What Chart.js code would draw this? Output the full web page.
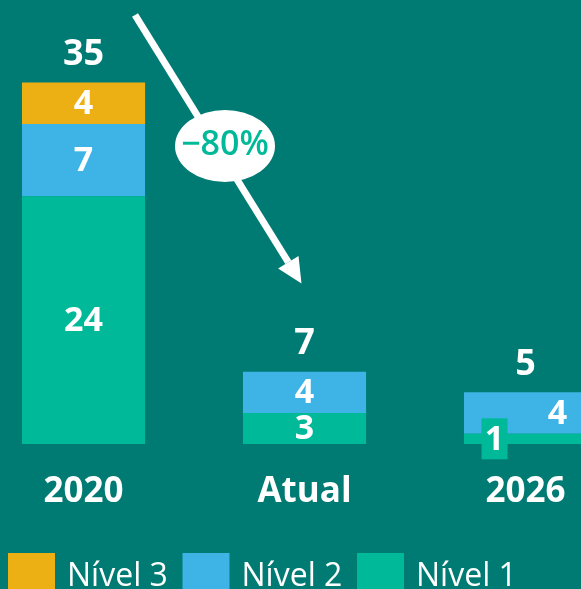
<!DOCTYPE html>
<html lang="pt">
<head>
<meta charset="utf-8">
<script src="https://cdn.jsdelivr.net/npm/chart.js@4.4.1/dist/chart.umd.min.js"></script>
<style>
  html, body { margin: 0; padding: 0; background: #007b74; }
  #wrap { width: 581px; height: 589px; }
</style>
</head>
<body>
<div id="wrap"><canvas id="grafico"></canvas></div>
<script>
// dados
const categorias = ['2020', 'Atual', '2026'];
const nivel1 = [24, 3, 1];
const nivel2 = [7, 4, 4];
const nivel3 = [4, null, null];
const nomesNiveis = ['Nível 1', 'Nível 2', 'Nível 3'];
const variacao = '−80%';

const cores = ['#00b999', '#3db4e5', '#edb014'];
const fonte = '"Open Sans", "Noto Sans", sans-serif';

// deslocamentos dos rótulos na barra de 2026 (como no original)
const ajusteRotulo = {
    '0-2': { dx: -31, dy: 0, caixa: true },
    '1-2': { dx: 32, dy: 0 }
};

// eixo x numérico: cada categoria em 0, 1, 2 (a última fica cortada na borda)
const pontos = (serie) => serie.map((v, j) => ({ x: j, y: v }));

const rotulosPlugin = {
    id: 'rotulos',
    afterDatasetsDraw(chart) {
        const ctx = chart.ctx;
        ctx.save();
        ctx.textAlign = 'center';
        ctx.textBaseline = 'middle';

        // valores dentro das barras
        chart.data.datasets.forEach((ds, i) => {
            const meta = chart.getDatasetMeta(i);
            meta.data.forEach((bar, j) => {
                const v = ds.data[j].y;
                if (!v) return;
                let x = bar.x;
                let y = (bar.y + bar.base) / 2;
                const aj = ajusteRotulo[i + '-' + j];
                if (aj) {
                    x += aj.dx;
                    y += aj.dy;
                    if (aj.caixa) {
                        ctx.fillStyle = ds.backgroundColor;
                        ctx.fillRect(x - 13, y - 20.5, 26, 41);
                    }
                }
                ctx.fillStyle = '#ffffff';
                ctx.font = 'bold 34px ' + fonte;
                ctx.fillText(String(v), x, y + 1);
            });
        });

        // totais acima das barras
        categorias.forEach((c, j) => {
            let total = 0;
            let topo = Infinity;
            chart.data.datasets.forEach((ds, i) => {
                const v = ds.data[j].y;
                if (!v) return;
                total += v;
                topo = Math.min(topo, chart.getDatasetMeta(i).data[j].y);
            });
            const x = chart.getDatasetMeta(0).data[j].x;
            ctx.fillStyle = '#ffffff';
            ctx.font = 'bold 36px ' + fonte;
            ctx.fillText(String(total), x, topo - 28);
        });
        ctx.restore();
    },
    afterDraw(chart) {
        const ctx = chart.ctx;
        ctx.save();

        // seta de queda
        const x0 = 135, y0 = 15, x1 = 301.5, y1 = 283.5;
        const len = Math.hypot(x1 - x0, y1 - y0);
        const ux = (x1 - x0) / len, uy = (y1 - y0) / len;
        const bx = x1 - ux * 25, by = y1 - uy * 25;
        ctx.strokeStyle = '#ffffff';
        ctx.lineWidth = 7;
        ctx.beginPath();
        ctx.moveTo(x0, y0);
        ctx.lineTo(bx, by);
        ctx.stroke();
        ctx.fillStyle = '#ffffff';
        ctx.beginPath();
        ctx.moveTo(x1, y1);
        ctx.lineTo(bx - uy * 12, by + ux * 12);
        ctx.lineTo(bx + uy * 12, by - ux * 12);
        ctx.closePath();
        ctx.fill();

        // balão com a variação
        ctx.beginPath();
        ctx.ellipse(225, 146, 50, 36, 0, 0, Math.PI * 2);
        ctx.fill();
        ctx.fillStyle = cores[0];
        ctx.font = '600 34px ' + fonte;
        ctx.textAlign = 'center';
        ctx.textBaseline = 'middle';
        ctx.fillText(variacao, 225, 145);

        // legenda (Nível 3, 2, 1)
        ctx.textAlign = 'left';
        ctx.textBaseline = 'alphabetic';
        ctx.font = '32px ' + fonte;
        const ordem = [2, 1, 0];
        ordem.forEach((i, k) => {
            const lx = 8 + k * 174.5;
            ctx.fillStyle = chart.data.datasets[i].backgroundColor;
            ctx.fillRect(lx, 553, 47, 40);
            ctx.fillStyle = '#ffffff';
            ctx.fillText(chart.data.datasets[i].label, lx + 59, 586);
        });
        ctx.restore();
    }
};

new Chart(document.getElementById('grafico'), {
    type: 'bar',
    data: {
        datasets: [
            { label: nomesNiveis[0], data: pontos(nivel1), backgroundColor: cores[0] },
            { label: nomesNiveis[1], data: pontos(nivel2), backgroundColor: cores[1] },
            { label: nomesNiveis[2], data: pontos(nivel3), backgroundColor: cores[2] }
        ]
    },
    options: {
        responsive: true,
        maintainAspectRatio: false,
        animation: false,
        layout: {
            padding: { left: 0, right: 0, top: 0, bottom: 49 }
        },
        datasets: {
            bar: { categoryPercentage: 1, barPercentage: 0.557, borderWidth: 0 }
        },
        plugins: {
            legend: { display: false },
            tooltip: { enabled: false }
        },
        scales: {
            x: {
                type: 'linear',
                stacked: true,
                offset: false,
                bounds: 'data',
                min: -0.378,
                max: 2.251,
                afterBuildTicks: (axis) => {
                    axis.ticks = categorias.map((c, j) => ({ value: j }));
                },
                afterFit: (axis) => {
                    axis.paddingLeft = 0;
                    axis.paddingRight = 0;
                },
                grid: { display: false, drawTicks: false },
                border: { display: false },
                ticks: {
                    color: '#ffffff',
                    padding: 27,
                    autoSkip: false,
                    maxRotation: 0,
                    font: { family: fonte, size: 35, weight: 'bold' },
                    callback: (v) => categorias[v]
                }
            },
            y: {
                stacked: true,
                display: false,
                min: 0,
                max: 43
            }
        }
    },
    plugins: [rotulosPlugin]
});
</script>
</body>
</html>
